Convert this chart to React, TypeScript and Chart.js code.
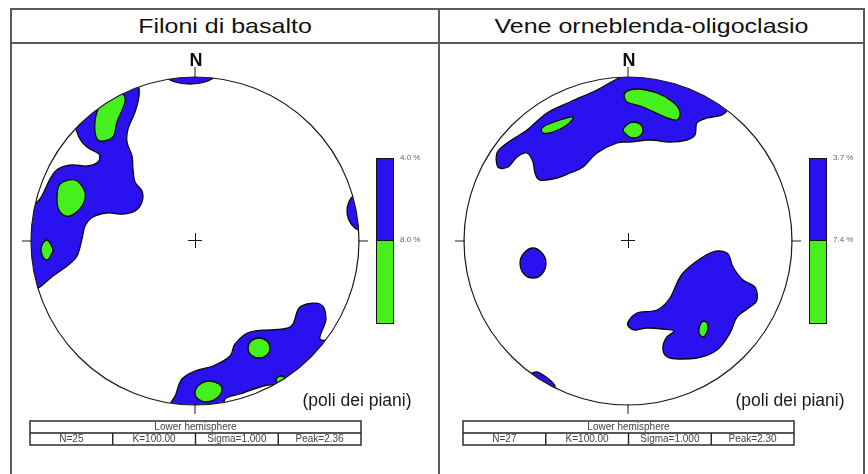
import React, { useEffect, useRef } from 'react';
import { Chart, registerables } from 'chart.js';

Chart.register(...registerables);

type Pt = [number, number];

// Net coordinates: origin at the centre of the equal-area net, north up, primitive radius = 164.
const NET_RADIUS = 164;

// ---------- Filoni di basalto ----------
const basaltoTitle = 'Filoni di basalto';
const basaltoLevels = ['4.0 %', '8.0 %'];
const basaltoStats = ['N=25', 'K=100.00', 'Sigma=1.000', 'Peak=2.36'];
// blue contour (>= 4.0 %)
const basaltoBlueN: Pt[] = [[-31, 167], [-23, 174], [-5, 177], [13, 174], [21, 167], [13, 160], [-5, 157], [-23, 160]];
const basaltoBlueNW: Pt[] = [
  [-118, 119], [-95, 142], [-75, 154], [-58, 156], [-56, 145], [-60, 129], [-67, 112], [-68, 99], [-63, 85],
  [-62, 72], [-60, 59], [-53, 50], [-53, 39], [-60, 30], [-72, 27], [-88, 28], [-102, 24], [-110, 15],
  [-113, 2], [-118, -15], [-128, -25], [-142, -35], [-158, -48], [-172, -51], [-178, 2], [-170, 27],
  [-155, 42], [-145, 62], [-137, 72], [-123, 76], [-108, 75], [-97, 79], [-96, 87], [-105, 92], [-113, 99], [-118, 109],
];
const basaltoBlueE: Pt[] = [[152, 30], [157, 44], [168, 50], [179, 44], [184, 30], [179, 16], [168, 10], [157, 16]];
const basaltoBlueSE: Pt[] = [
  [105, -66], [125, -63], [131, -78], [125, -98], [140, -103], [105, -143], [73, -144], [45, -153], [30, -158],
  [25, -173], [-25, -173], [-19, -153], [-13, -138], [0, -130], [18, -125], [35, -115], [40, -103], [55, -91],
  [88, -88], [98, -83],
];
// green contour (>= 8.0 %)
const basaltoGreenNW: Pt[] = [[-88, 145], [-73, 147], [-70, 139], [-78, 119], [-82, 104], [-95, 100], [-100, 109], [-98, 129]];
const basaltoGreenW: Pt[] = [[-135, 57], [-120, 61], [-110, 49], [-113, 35], [-125, 25], [-135, 29], [-138, 42]];
const basaltoGreenW2: Pt[] = [[-154, -9], [-152, -2], [-148, 1], [-145, -2], [-142, -9], [-145, -16], [-148, -19], [-152, -16]];
const basaltoGreenSE: Pt[] = [[53, -107], [56, -100], [64, -97], [72, -100], [75, -107], [72, -114], [64, -117], [56, -114]];
const basaltoGreenS: Pt[] = [[0, -152], [4, -144], [14, -140], [24, -143], [27, -149], [22, -157], [12, -161], [3, -158]];
const basaltoGreenSE2: Pt[] = [[81, -139], [83, -136], [86, -135], [89, -136], [91, -139], [89, -142], [86, -143], [83, -142]];

// ---------- Vene orneblenda-oligoclasio ----------
const veneTitle = 'Vene orneblenda-oligoclasio';
const veneLevels = ['3.7 %', '7.4 %'];
const veneStats = ['N=27', 'K=100.00', 'Sigma=1.000', 'Peak=2.30'];
// blue contour (>= 3.7 %)
const veneBlueN: Pt[] = [
  [-130, 74], [-131, 88], [-121, 98], [-101, 111], [-81, 128], [-58, 139], [-31, 151], [-11, 162], [9, 168],
  [35, 166], [62, 152], [90, 143], [99, 133], [94, 126], [79, 123], [69, 118], [67, 106], [59, 101], [42, 99],
  [22, 101], [2, 99], [-11, 98], [-31, 88], [-45, 74], [-58, 68], [-71, 63], [-88, 61], [-93, 68], [-95, 79],
  [-101, 88], [-111, 84], [-120, 74],
];
const veneBlueW: Pt[] = [[-108, -22], [-104, -12], [-95, -7], [-86, -12], [-82, -22], [-86, -33], [-95, -37], [-104, -33]];
const veneBlueSE: Pt[] = [
  [0, -81], [9, -72], [29, -69], [42, -57], [55, -32], [82, -12], [99, -12], [105, -26], [115, -39], [127, -46],
  [129, -59], [122, -66], [109, -76], [102, -92], [89, -109], [69, -117], [42, -117], [35, -109], [38, -97],
  [46, -90], [34, -88], [19, -87], [7, -89], [1, -86],
];
const veneBlueSW: Pt[] = [[-92, -131], [-82, -136], [-73, -145], [-78, -153], [-100, -138]];
// green contour (>= 7.4 %)
const veneGreenN: Pt[] = [[-3, 148], [9, 152], [29, 148], [45, 139], [52, 129], [49, 121], [37, 124], [15, 134], [-1, 139]];
const veneGreenN2: Pt[] = [[-5, 111], [0, 117], [5, 119], [12, 117], [15, 111], [12, 105], [5, 103], [0, 105]];
const veneGreenNW: Pt[] = [[-85, 114], [-68, 121], [-55, 124], [-61, 116], [-75, 109], [-85, 108]];
const veneGreenSE: Pt[] = [[72, -84], [76, -80], [80, -84], [79, -91], [75, -96], [71, -92]];

const BLUE = '#2a12f0';
const GREEN = '#46f01e';
const FONT = '"Liberation Sans", Arial, Helvetica, sans-serif';
const FRAME = '#5a5a5a';

function smoothClosed(ctx: CanvasRenderingContext2D, p: { x: number; y: number }[]) {
  const n = p.length;
  const t = 1 / 6;
  ctx.moveTo(p[0].x, p[0].y);
  for (let i = 0; i < n; i++) {
    const p0 = p[(i - 1 + n) % n];
    const p1 = p[i];
    const p2 = p[(i + 1) % n];
    const p3 = p[(i + 2) % n];
    ctx.bezierCurveTo(
      p1.x + (p2.x - p0.x) * t, p1.y + (p2.y - p0.y) * t,
      p2.x - (p3.x - p1.x) * t, p2.y - (p3.y - p1.y) * t,
      p2.x, p2.y,
    );
  }
  ctx.closePath();
}

const netPlugin = {
  id: 'net',
  afterDatasetsDraw(chart: any, _args: any, opts: any) {
    const ctx: CanvasRenderingContext2D = chart.ctx;
    const xs = chart.scales.x;
    const ys = chart.scales.y;
    const cx = xs.getPixelForValue(0);
    const cy = ys.getPixelForValue(0);
    const r = xs.getPixelForValue(xs.max) - cx;

    // contours, clipped to the primitive circle
    ctx.save();
    ctx.beginPath();
    ctx.arc(cx, cy, r, 0, Math.PI * 2);
    ctx.clip();
    chart.data.datasets.forEach((ds: any, i: number) => {
      const pts = chart.getDatasetMeta(i).data.map((e: any) => ({ x: e.x, y: e.y }));
      if (!pts.length) return;
      ctx.beginPath();
      smoothClosed(ctx, pts);
      ctx.fillStyle = ds.backgroundColor;
      ctx.fill();
      ctx.lineWidth = 1.3;
      ctx.strokeStyle = '#0a0a0a';
      ctx.stroke();
    });
    ctx.restore();

    // primitive circle
    ctx.save();
    ctx.strokeStyle = '#1a1a1a';
    ctx.lineWidth = 1.2;
    ctx.beginPath();
    ctx.arc(cx, cy, r, 0, Math.PI * 2);
    ctx.stroke();

    // ticks and centre cross
    ctx.lineWidth = 1;
    ctx.beginPath();
    ctx.moveTo(cx, cy - r - 10); ctx.lineTo(cx, cy - r + 1);
    ctx.moveTo(cx, cy + r - 1); ctx.lineTo(cx, cy + r + 9);
    ctx.moveTo(cx - r - 9, cy); ctx.lineTo(cx - r + 1, cy);
    ctx.moveTo(cx + r - 1, cy); ctx.lineTo(cx + r + 9, cy);
    ctx.moveTo(cx - 7, cy - 0.5); ctx.lineTo(cx + 7, cy - 0.5);
    ctx.moveTo(cx + 0.5, cy - 8); ctx.lineTo(cx + 0.5, cy + 7);
    ctx.stroke();

    // N label
    ctx.fillStyle = '#111';
    ctx.font = `bold 18px ${FONT}`;
    ctx.textAlign = 'center';
    ctx.textBaseline = 'alphabetic';
    ctx.fillText('N', cx + 1, cy - r - 11);

    // colour bar
    const bx = cx + r + 17;
    const bw = 17;
    const top = cy - 83;
    const mid = cy - 1;
    const bot = cy + 82;
    ctx.fillStyle = BLUE;
    ctx.fillRect(bx, top, bw, mid - top);
    ctx.fillStyle = GREEN;
    ctx.fillRect(bx, mid, bw, bot - mid);
    ctx.strokeStyle = '#111';
    ctx.lineWidth = 1;
    ctx.strokeRect(bx + 0.5, top + 0.5, bw, bot - top);
    ctx.beginPath();
    ctx.moveTo(bx, mid + 0.5); ctx.lineTo(bx + bw, mid + 0.5);
    ctx.stroke();
    ctx.fillStyle = '#666';
    ctx.font = `8px ${FONT}`;
    ctx.textAlign = 'left';
    ctx.textBaseline = 'middle';
    ctx.fillText(opts.levels[0], bx + bw + 7, top);
    ctx.fillText(opts.levels[1], bx + bw + 7, mid);

    // caption
    ctx.fillStyle = '#1a1a1a';
    ctx.font = `17.5px ${FONT}`;
    ctx.textAlign = 'center';
    ctx.textBaseline = 'alphabetic';
    ctx.fillText('(poli dei piani)', cx + r - 2, cy + r + 1);

    // statistics table
    const tl = cx - r - 1;
    const tr = cx + r + 2;
    const tt = cy + r + 16;
    const rh = 12;
    ctx.strokeStyle = '#222';
    ctx.lineWidth = 1.4;
    ctx.strokeRect(tl, tt, tr - tl, rh * 2);
    ctx.beginPath();
    ctx.moveTo(tl, tt + rh); ctx.lineTo(tr, tt + rh);
    const cw = (tr - tl) / 4;
    for (let k = 1; k < 4; k++) {
      ctx.moveTo(tl + cw * k, tt + rh); ctx.lineTo(tl + cw * k, tt + rh * 2);
    }
    ctx.stroke();
    ctx.fillStyle = '#444';
    ctx.font = `10px ${FONT}`;
    ctx.textAlign = 'center';
    ctx.textBaseline = 'middle';
    ctx.fillText('Lower hemisphere', (tl + tr) / 2, tt + rh / 2 + 0.5);
    opts.stats.forEach((s: string, k: number) => {
      ctx.fillText(s, tl + cw * (k + 0.5), tt + rh * 1.5 + 0.5);
    });
    ctx.restore();
  },
};

type PanelProps = {
  blue: Pt[][];
  green: Pt[][];
  levels: string[];
  stats: string[];
  left: number;
  width: number;
  padLeft: number;
  padRight: number;
};

function Stereonet({ blue, green, levels, stats, left, width, padLeft, padRight }: PanelProps) {
  const ref = useRef<HTMLCanvasElement>(null);
  useEffect(() => {
    const toSet = (pts: Pt[], color: string) => ({
      data: pts.map(([x, y]) => ({ x, y })),
      backgroundColor: color,
      borderColor: '#000',
      pointRadius: 0,
      pointHoverRadius: 0,
      showLine: false,
    });
    const chart = new Chart(ref.current as HTMLCanvasElement, {
      type: 'scatter',
      data: {
        datasets: [...blue.map((b) => toSet(b, BLUE)), ...green.map((g) => toSet(g, GREEN))],
      },
      options: {
        responsive: false,
        animation: false,
        events: [],
        layout: { padding: { left: padLeft, right: padRight, top: 33, bottom: 69 } },
        scales: {
          x: { type: 'linear', min: -NET_RADIUS, max: NET_RADIUS, display: false },
          y: { type: 'linear', min: -NET_RADIUS, max: NET_RADIUS, display: false },
        },
        plugins: {
          legend: { display: false },
          tooltip: { enabled: false },
          title: { display: false },
          net: { levels, stats },
        } as any,
      },
      plugins: [netPlugin],
    } as any);
    return () => chart.destroy();
  }, []);
  return (
    <canvas
      ref={ref}
      width={width}
      height={430}
      style={{ position: 'absolute', left, top: 44, width, height: 430 }}
    />
  );
}

export default function App() {
  const titleStyle: React.CSSProperties = {
    position: 'absolute',
    top: 10,
    height: 32,
    lineHeight: '32px',
    textAlign: 'center',
    fontFamily: FONT,
    fontSize: 21,
    color: '#111',
    whiteSpace: 'nowrap',
    transform: 'scaleX(1.19)',
  };
  return (
    <div style={{ position: 'fixed', left: 0, top: 0, width: 868, height: 474, overflow: 'hidden', background: '#fff' }}>
      <div style={{ position: 'absolute', left: 10, top: 8, width: 855, height: 480, border: `2px solid ${FRAME}`, boxSizing: 'border-box' }} />
      <div style={{ position: 'absolute', left: 10, top: 42, width: 855, height: 2, background: FRAME }} />
      <div style={{ position: 'absolute', left: 438, top: 8, width: 2, height: 470, background: FRAME }} />
      <div style={{ ...titleStyle, left: 12, width: 426 }}>{basaltoTitle}</div>
      <div style={{ ...titleStyle, left: 440, width: 423 }}>{veneTitle}</div>
      <Stereonet
        blue={[basaltoBlueN, basaltoBlueNW, basaltoBlueE, basaltoBlueSE]}
        green={[basaltoGreenNW, basaltoGreenW, basaltoGreenW2, basaltoGreenSE, basaltoGreenS, basaltoGreenSE2]}
        levels={basaltoLevels}
        stats={basaltoStats}
        left={11}
        width={427}
        padLeft={20}
        padRight={79}
      />
      <Stereonet
        blue={[veneBlueN, veneBlueW, veneBlueSE, veneBlueSW]}
        green={[veneGreenN, veneGreenN2, veneGreenNW, veneGreenSE]}
        levels={veneLevels}
        stats={veneStats}
        left={440}
        width={424}
        padLeft={24}
        padRight={72}
      />
    </div>
  );
}
